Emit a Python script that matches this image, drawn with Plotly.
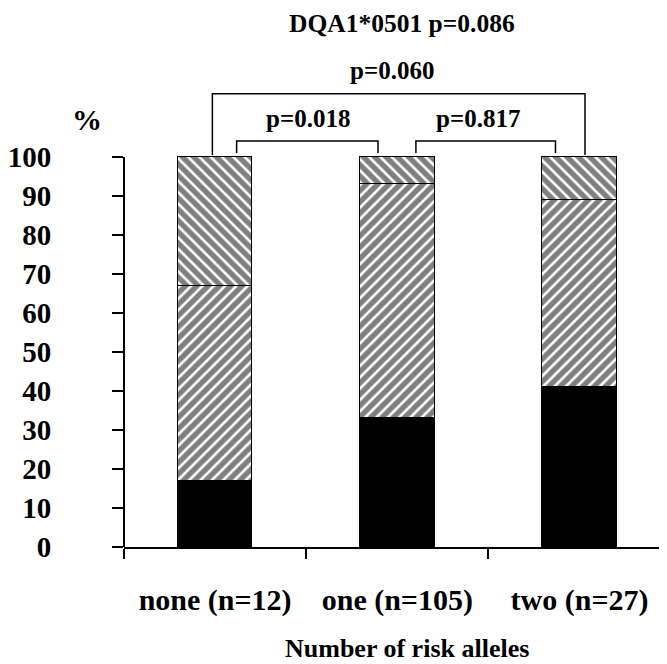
import plotly.graph_objects as go

# ---- data ----
categories = ["none (n=12)", "one (n=105)", "two (n=27)"]
black_pct = [17, 33, 41]        # solid black segment
fwd_hatch_pct = [50, 60, 48]    # "/" hatched segment
back_hatch_pct = [33, 7, 11]    # "\" hatched segment
y_ticks = [0, 10, 20, 30, 40, 50, 60, 70, 80, 90, 100]
title_text = "DQA1*0501 p=0.086"
x_title = "Number of risk alleles"
y_title = "%"
comparisons = [(0, 2, "p=0.060"), (0, 1, "p=0.018"), (1, 2, "p=0.817")]

FONT = "Times New Roman, Liberation Serif, Times, serif"
BW = 0.41
PX_PER_UNIT = 3.9

fig = go.Figure()
fig.add_trace(go.Bar(x=categories, y=black_pct, width=BW,
                     marker=dict(color="black", line=dict(color="black", width=1.5))))
fig.add_trace(go.Bar(x=categories, y=fwd_hatch_pct, width=BW,
                     marker=dict(color="white", line=dict(color="black", width=1.5),
                                 pattern=dict(shape="/", size=8, solidity=0.68,
                                              fgcolor="black", bgcolor="white"))))
fig.add_trace(go.Bar(x=categories, y=back_hatch_pct, width=BW,
                     marker=dict(color="white", line=dict(color="black", width=1.5),
                                 pattern=dict(shape="\\", size=8, solidity=0.68,
                                              fgcolor="black", bgcolor="white"))))

# bracket geometry (style): left offset, right offset, top y, bottom y, text x, text y
bracket_style = {
    (0, 2): (-0.015, 0.03, 116.2, 100.5, 0.97, 122.3),
    (0, 1): (0.118, -0.106, 104.1, 101.0, 0.51, 109.8),
    (1, 2): (0.102, -0.132, 104.1, 101.0, 1.44, 109.8),
}
shapes = []
annotations = []
for a, b, txt in comparisons:
    lo, ro, top, bot, tx, ty = bracket_style[(a, b)]
    xl, xr = a + lo, b + ro
    shapes.append(dict(type="path", xref="x", yref="y",
                       path=f"M {xl} {bot} L {xl} {top} L {xr} {top} L {xr} {bot}",
                       line=dict(color="black", width=1.5)))
    annotations.append(dict(x=tx, y=ty, xref="x", yref="y", text=txt, showarrow=False,
                            font=dict(family=FONT, size=25, color="black", weight="bold")))

# y-axis line (0..100 only)
shapes.append(dict(type="line", xref="paper", yref="y", x0=0, x1=0, y0=0, y1=100,
                   line=dict(color="black", width=2)))

annotations.append(dict(x=-0.068, y=109.6, xref="paper", yref="y", text=y_title,
                        xanchor="center", showarrow=False,
                        font=dict(family=FONT, size=30, color="black", weight="bold")))
annotations.append(dict(x=1.026, y=134.3, xref="x", yref="y", text=title_text,
                        showarrow=False,
                        font=dict(family=FONT, size=25.5, color="black", weight="bold")))
annotations.append(dict(x=0.522, y=-0.189, xref="paper", yref="paper", text=x_title,
                        showarrow=False, yanchor="middle",
                        font=dict(family=FONT, size=26, color="black", weight="bold")))

fig.update_layout(
    width=659, height=656,
    margin=dict(l=114, r=0, t=0, b=117),
    barmode="stack", bargap=0,
    showlegend=False,
    plot_bgcolor="white", paper_bgcolor="white",
    shapes=shapes, annotations=annotations,
    xaxis=dict(type="category", range=[-0.5, 2.48], showline=True, linecolor="black",
               linewidth=2, ticks="outside", tickson="boundaries", ticklen=10,
               tickwidth=2, tickcolor="black", showgrid=False, zeroline=False,
               ticklabelstandoff=25,
               tickfont=dict(family=FONT, size=30, color="black", weight="bold")),
    yaxis=dict(range=[0, 539 / PX_PER_UNIT], showline=False, ticks="outside", ticklen=11,
               tickwidth=2, tickcolor="black", tickvals=y_ticks, showticklabels=True,
               ticklabelstandoff=55,
               tickfont=dict(family=FONT, size=29, color="black", weight="bold"),
               showgrid=False, zeroline=False),
)

fig.write_html("out.html")
